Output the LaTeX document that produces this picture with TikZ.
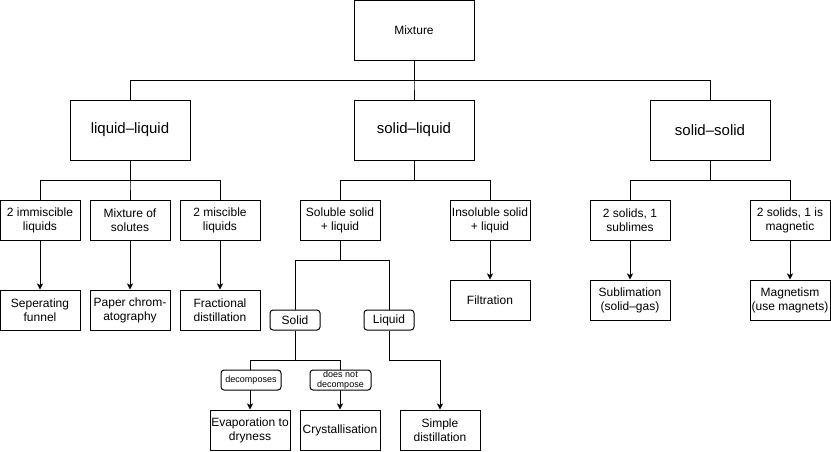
\documentclass[tikz,border=0pt]{standalone}
\usepackage{fontspec}
\setmainfont{Liberation Sans}
\usetikzlibrary{arrows.meta}

\begin{document}
\begin{tikzpicture}[x=1pt,y=-1pt,
  line width=1pt,
  base/.style={draw=black, fill=white, inner sep=0pt, align=center, line width=1pt},
  topbox/.style={base, minimum width=120pt, minimum height=60pt, font=\fontsize{15}{18}\selectfont},
  rootbox/.style={base, minimum width=120pt, minimum height=60pt, font=\fontsize{12}{14}\selectfont},
  leafbox/.style={base, minimum width=80pt, minimum height=40pt, font=\fontsize{12}{14}\selectfont},
  pill/.style={base, rounded corners=3pt, minimum width=50pt, minimum height=20pt, font=\fontsize{12}{14}\selectfont},
  tag/.style={base, rounded corners=3pt, minimum width=60pt, minimum height=20pt, font=\fontsize{9}{10}\selectfont},
  link/.style={draw=black, line width=1pt},
  arr/.style={link, -{Stealth[length=6pt,width=6pt,inset=1.5pt]}}
]
\useasboundingbox (0,0) rectangle (831,451);

% root and the three mixture kinds
\node[rootbox] (mix) at (414,30) {Mixture};
\node[topbox] (ll) at (130,130) {liquid--liquid};
\node[topbox] (sl) at (414,130) {solid--liquid};
\node[topbox] (ss) at (710,130) {solid--solid};

% liquid--liquid branch
\node[leafbox] (imm) at (40,220) {2 immiscible\\liquids};
\node[leafbox] (sol) at (130,220) {Mixture of\\solutes};
\node[leafbox] (mis) at (220,220) {2 miscible\\liquids};
\node[leafbox] (sep) at (40,310) {Seperating\\funnel};
\node[leafbox] (pap) at (130,310) {Paper chrom-\\atography};
\node[leafbox] (fra) at (220,310) {Fractional\\distillation};

% solid--liquid branch
\node[leafbox] (sls) at (340,220) {Soluble solid\\+ liquid};
\node[leafbox] (ins) at (490,220) {Insoluble solid\\+ liquid};
\node[leafbox] (fil) at (490,300) {Filtration};
\node[pill] (solid) at (295,320) {Solid};
\node[pill] (liquid) at (389,320) {Liquid};
\node[leafbox] (eva) at (250,430) {Evaporation to\\dryness};
\node[leafbox] (cry) at (340,430) {Crystallisation};
\node[leafbox] (sim) at (440,430) {Simple\\distillation};

% solid--solid branch
\node[leafbox] (sub) at (630,220) {2 solids, 1\\sublimes};
\node[leafbox] (mag) at (790,220) {2 solids, 1 is\\magnetic};
\node[leafbox] (subm) at (630,300) {Sublimation\\(solid--gas)};
\node[leafbox] (magm) at (790,300) {Magnetism\\(use magnets)};

% tree connectors
\foreach \c in {ll,sl,ss}
  \draw[link] (mix.south) -- ++(0,20) -| (\c.north);
\foreach \c in {imm,sol,mis}
  \draw[link] (ll.south) -- ++(0,20) -| (\c.north);
\foreach \c in {sls,ins}
  \draw[link] (sl.south) -- ++(0,20) -| (\c.north);
\foreach \c in {sub,mag}
  \draw[link] (ss.south) -- ++(0,20) -| (\c.north);
\foreach \c in {solid,liquid}
  \draw[link] (sls.south) -- ++(0,20) -| (\c.north);

% method arrows
\draw[arr] (imm) -- (sep);
\draw[arr] (sol) -- (pap);
\draw[arr] (mis) -- (fra);
\draw[arr] (ins) -- (fil);
\draw[arr] (sub) -- (subm);
\draw[arr] (mag) -- (magm);
\draw[arr] (solid.south) -- ++(0,30) -| (eva.north);
\draw[arr] (solid.south) -- ++(0,30) -| (cry.north);
\draw[arr] (liquid.south) -- ++(0,30) -| (sim.north);

% edge labels
\node[tag] (dec) at (251,380) {decomposes};
\node[tag, minimum width=61pt] (dnd) at (340.5,380) {does not\\decompose};
\end{tikzpicture}
\end{document}
